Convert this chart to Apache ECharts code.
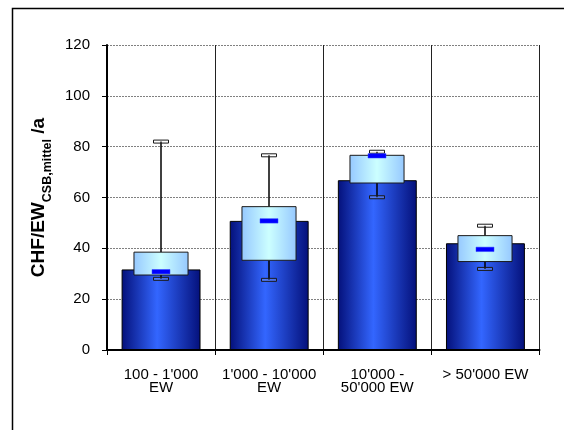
<!DOCTYPE html>
<html><head><meta charset="utf-8">
<script src="https://cdn.jsdelivr.net/npm/echarts@6/dist/echarts.min.js"></script>
<style>html,body{margin:0;padding:0;background:#fff}#c{width:564px;height:430px}</style>
</head><body><div id="c"></div>
<script>
const categories = ["100 - 1'000\nEW", "1'000 - 10'000\nEW", "10'000 -\n50'000 EW", "> 50'000 EW"];
const barValues = [31.7, 50.8, 66.8, 42.0];
const whiskerMin = [28.0, 27.6, 60.1, 31.9];
const boxLow = [29.5, 35.3, 65.7, 34.8];
const medianValues = [30.8, 50.8, 76.4, 39.6];
const boxHigh = [38.5, 56.4, 76.6, 45.0];
const whiskerMax = [82.0, 76.6, 78.0, 48.9];
const yMin = 0, yMax = 120, yInterval = 20;

const FONT = 'Liberation Sans, Arial, sans-serif';
const chart = echarts.init(document.getElementById('c'), null, {renderer: 'canvas'});

const boxData = categories.map((c, i) => [i, whiskerMin[i], boxLow[i], medianValues[i], boxHigh[i], whiskerMax[i]]);

function renderBox(params, api) {
  const i = api.value(0);
  const pMin = api.coord([i, api.value(1)]);
  const pLo = api.coord([i, api.value(2)]);
  const pMed = api.coord([i, api.value(3)]);
  const pHi = api.coord([i, api.value(4)]);
  const pMax = api.coord([i, api.value(5)]);
  const w = api.size([1, 0])[0];
  const bw = w * 0.5, cw = 15, mw = 18;
  const x = Math.round(pLo[0]);
  return {
    type: 'group',
    children: [
      {type: 'line', shape: {x1: x, y1: pMax[1], x2: x, y2: pHi[1]}, style: {stroke: '#000', lineWidth: 1.5}},
      {type: 'line', shape: {x1: x, y1: pLo[1], x2: x, y2: pMin[1]}, style: {stroke: '#000', lineWidth: 1.5}},
      {type: 'rect', shape: {x: x - bw / 2, y: pHi[1], width: bw, height: pLo[1] - pHi[1]},
        style: {fill: new echarts.graphic.LinearGradient(0, 0, 1, 0, [
          {offset: 0, color: '#96c8ff'}, {offset: 0.5, color: '#ccffff'}, {offset: 1, color: '#96c8ff'}]),
          stroke: '#1a1a1a', lineWidth: 1}},
      {type: 'rect', shape: {x: x - cw / 2, y: pMax[1] - 1.5, width: cw, height: 3},
        style: {fill: 'rgba(255,255,255,0.15)', stroke: '#1a1a1a', lineWidth: 1}},
      {type: 'rect', shape: {x: x - cw / 2, y: pMin[1] - 1.5, width: cw, height: 3},
        style: {fill: 'rgba(255,255,255,0.15)', stroke: '#1a1a1a', lineWidth: 1}},
      {type: 'rect', shape: {x: x - mw / 2, y: pMed[1] - 2.2, width: mw, height: 4.4},
        style: {fill: '#0000ff', stroke: '#3344ff', lineWidth: 0.5}}
    ]
  };
}

chart.setOption({
  animation: false,
  backgroundColor: '#fff',
  graphic: [{type: 'rect', shape: {x: 12.5, y: 8.5, width: 700, height: 600},
    style: {fill: 'none', stroke: '#000', lineWidth: 1.5}, z: 100}],
  grid: {left: 107, right: 24.5, top: 45, bottom: 80, containLabel: false},
  xAxis: {
    type: 'category', data: categories, boundaryGap: true,
    axisLine: {lineStyle: {color: '#000', width: 2}},
    axisTick: {show: true, length: 5, inside: false, lineStyle: {color: '#000', width: 1}},
    axisLabel: {fontFamily: FONT, fontSize: 15, color: '#000', lineHeight: 13, margin: 18, interval: 0},
    splitLine: {show: true, lineStyle: {color: '#222', width: 1, type: 'solid'}}
  },
  yAxis: {
    type: 'value', min: yMin, max: yMax, interval: yInterval,
    name: '{b|CHF/EW}{s|CSB,mittel}{b| /a}',
    nameLocation: 'middle', nameRotate: 90, nameGap: 50,
    nameTextStyle: {rich: {
      b: {fontFamily: FONT, fontSize: 19, fontWeight: 'bold', color: '#000', verticalAlign: 'top', padding: [0, 0, 6, 0]},
      s: {fontFamily: FONT, fontSize: 12.5, fontWeight: 'bold', color: '#000', verticalAlign: 'bottom'}
    }},
    axisLine: {show: true, lineStyle: {color: '#000', width: 2}},
    axisTick: {show: true, length: 5, lineStyle: {color: '#000', width: 1}},
    axisLabel: {fontFamily: FONT, fontSize: 15, color: '#000', margin: 17},
    splitLine: {show: true, lineStyle: {color: '#808080', width: 1, type: [2, 1]}}
  },
  series: [
    {type: 'bar', data: barValues, barWidth: '73%', z: 2,
      itemStyle: {color: new echarts.graphic.LinearGradient(0, 0, 1, 0, [
        {offset: 0, color: '#04107a'}, {offset: 0.45, color: '#3366ff'}, {offset: 1, color: '#04107a'}]),
        borderColor: '#000', borderWidth: 1}},
    {type: 'custom', data: boxData, renderItem: renderBox, encode: {x: 0, y: [1, 5]}, z: 3}
  ]
});
</script></body></html>
